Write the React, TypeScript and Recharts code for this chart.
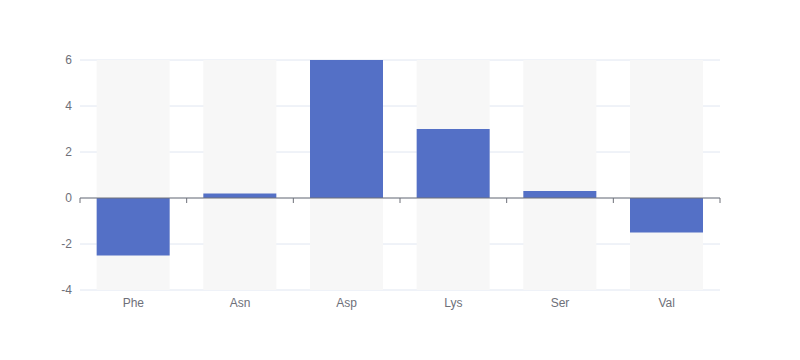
import { BarChart, Bar, XAxis, YAxis, CartesianGrid, ReferenceLine } from 'recharts';

const aminoAcids = ['Phe', 'Asn', 'Asp', 'Lys', 'Ser', 'Val'];
const scoreValues = [-2.5, 0.2, 6, 3, 0.3, -1.5];
const yTicks = [-4, -2, 0, 2, 4, 6];

const data = aminoAcids.map((name, i) => ({ name, value: scoreValues[i] }));

const W = 800;
const H = 360;
const PLOT_LEFT = 80;
const PLOT_RIGHT = 720;
const PLOT_TOP = 60;
const PLOT_BOTTOM = 290;
const AXIS_COLOR = '#6e7079';
const FONT = '"Liberation Sans", Arial, sans-serif';

// y of value 0 inside the plot, from the fixed domain
const zeroY = PLOT_TOP + ((PLOT_BOTTOM - PLOT_TOP) * 6) / (6 - -4);
const band = (PLOT_RIGHT - PLOT_LEFT) / aminoAcids.length;

function CategoryTick(props: any) {
  const { x, y, payload, index } = props;
  const i = payload?.index ?? index ?? 0;
  const left = x - band / 2;
  return (
    <g>
      <line x1={left} x2={left} y1={zeroY} y2={zeroY + 5} stroke={AXIS_COLOR} />
      {i === aminoAcids.length - 1 && (
        <line x1={x + band / 2} x2={x + band / 2} y1={zeroY} y2={zeroY + 5} stroke={AXIS_COLOR} />
      )}
      <text x={x} y={y} dy="0.71em" textAnchor="middle" fill={AXIS_COLOR} fontSize={12} fontFamily={FONT}>
        {payload.value}
      </text>
    </g>
  );
}

export default function App() {
  return (
    <div style={{ position: 'absolute', left: 0, top: 0, width: W, height: H, background: '#fff' }}>
      <BarChart
        width={W}
        height={H}
        data={data}
        margin={{ top: PLOT_TOP, right: W - PLOT_RIGHT, left: 0, bottom: H - PLOT_BOTTOM - 30 }}
        barCategoryGap="15.625%"
      >
        <CartesianGrid vertical={false} stroke="#e0e6f1" />
        <XAxis
          dataKey="name"
          height={30}
          axisLine={false}
          tickLine={false}
          tickSize={0}
          tickMargin={8}
          interval={0}
          tick={<CategoryTick />}
        />
        <YAxis
          width={PLOT_LEFT}
          domain={[-4, 6]}
          ticks={yTicks}
          axisLine={false}
          tickLine={false}
          tickSize={0}
          tickMargin={8}
          tick={{ fill: AXIS_COLOR, fontSize: 12, fontFamily: FONT }}
        />
        <Bar dataKey="value" fill="#5470c6" background={{ fill: '#f7f7f7' }} isAnimationActive={false} />
        <ReferenceLine y={0} stroke={AXIS_COLOR} />
      </BarChart>
    </div>
  );
}
